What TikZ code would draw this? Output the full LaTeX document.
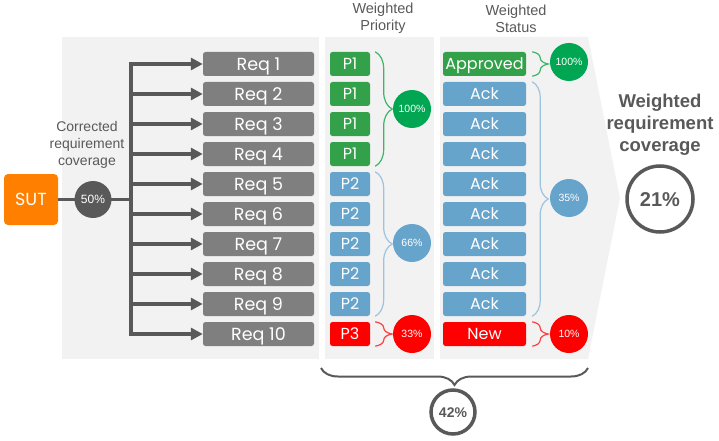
\documentclass[tikz,border=0pt]{standalone}
\usepackage{fontspec}
\setmainfont{Liberation Sans}
\newfontfamily\gothic{Poppins}
\usetikzlibrary{arrows.meta,decorations.pathreplacing,calc}
\definecolor{txtgray}{HTML}{595959}
\definecolor{reqgray}{HTML}{7F7F7F}
\definecolor{panelgray}{HTML}{F2F2F2}
\definecolor{boxgreen}{HTML}{33A14A}
\definecolor{circgreen}{HTML}{00A651}
\definecolor{boxblue}{HTML}{67A4CB}
\definecolor{boxred}{HTML}{FF0000}
\definecolor{sutorange}{HTML}{FF8000}
\definecolor{bracegreen}{HTML}{3DB56A}
\definecolor{braceblue}{HTML}{9DC3DF}
\definecolor{bracered}{HTML}{FF4040}
\tikzset{
  gbox/.style={rectangle, rounded corners=2.5pt, text=white, inner sep=0pt,
    minimum height=24pt, font=\gothic\fontsize{16}{16}\selectfont,
    text height=11.2pt, text depth=0pt},
  reqbox/.style={gbox, fill=reqgray, minimum width=111pt,
    font=\gothic\fontsize{17.5}{17.5}\selectfont, text height=12.2pt},
  pbox/.style={gbox, minimum width=40pt},
  sbox/.style={gbox, minimum width=83pt},
  pct/.style={circle, minimum size=38pt, inner sep=0pt, text=white,
    font=\fontsize{10.5}{10.5}\selectfont, text height=7.5pt, text depth=0pt},
  mainline/.style={draw=txtgray, line width=3.5pt},
  reqarrow/.style={mainline, -{Triangle[length=12pt,width=12pt]}},
  brc/.style={decorate, decoration={brace, amplitude=17pt}, line width=1.2pt},
  heading/.style={text=txtgray, align=center, font=\fontsize{14.5}{17}\selectfont},
  ring/.style={circle, draw=txtgray, line width=3.5pt, inner sep=0pt, text=txtgray}
}
\begin{document}
\begin{tikzpicture}[x=1pt, y=-1pt]
\useasboundingbox (0,0) rectangle (719,441);
% panels
\fill[panelgray] (62,37) rectangle (319,359);
\fill[panelgray] (325,37) rectangle (434,359);
\fill[panelgray] (440,37) -- (588,37) -- (620,198) -- (588,359) -- (440,359) -- cycle;
% headers
\node[heading] (hp) at (383,18.5) {Weighted\\Priority};
\node[heading] (hs) at (516,18.5) {Weighted\\Status};
\node[heading, font=\fontsize{14}{17}\selectfont] (hc) at (87,145) {Corrected\\requirement\\coverage};
% rows
\foreach \i in {1,...,10} {
  \pgfmathsetmacro{\yy}{64+30*(\i-1)}
  \node[reqbox] (req\i) at (258.5,\yy) {Req \i};
  \coordinate (t\i) at (131,\yy);
}
\foreach \i in {1,...,4} {\node[pbox, fill=boxgreen] (p\i) at (350,{64+30*(\i-1)}) {P1};}
\foreach \i in {5,...,9} {\node[pbox, fill=boxblue] (p\i) at (350,{64+30*(\i-1)}) {P2};}
\node[pbox, fill=boxred] (p10) at (350,334) {P3};
\node[sbox, fill=boxgreen] (s1) at (484.5,64) {Approved};
\foreach \i in {2,...,9} {\node[sbox, fill=boxblue] (s\i) at (484.5,{64+30*(\i-1)}) {Ack};}
\node[sbox, fill=boxred] (s10) at (484.5,334) {New};
% SUT and tree
\node[rectangle, rounded corners=4pt, fill=sutorange, minimum width=54pt, minimum height=51pt,
  inner sep=0pt, text=white, font=\gothic\fontsize{17.5}{17.5}\selectfont, text height=12.2pt, text depth=0pt]
  (sut) at (31,199.5) {SUT};
\coordinate (tj) at (131,199.5);
\draw[mainline] (sut.east) -- (tj);
\draw[mainline, line cap=rect] (t1) -- (t10);
\foreach \i in {1,...,10} {\draw[reqarrow] (t\i) -- (req\i.west);}
\node[circle, fill=txtgray, minimum size=37pt, inner sep=0pt, text=white,
  font=\fontsize{12}{12}\selectfont, text height=8.6pt, text depth=0pt] (c50) at (93,199.5) {50\%};
% priority braces and circles
\draw[brc, bracegreen] ($(p1.north east)+(5,0)$) -- ($(p4.south east)+(5,0)$);
\draw[brc, braceblue] ($(p5.north east)+(5,0)$) -- ($(p9.south east)+(5,0)$);
\draw[brc, bracered] ($(p10.north east)+(5,0)$) -- ($(p10.south east)+(5,0)$);
\node[pct, fill=circgreen] (cp1) at (412,109) {100\%};
\node[pct, fill=boxblue] (cp2) at (412,243) {66\%};
\node[pct, fill=boxred] (cp3) at (412,334) {33\%};
% status braces and circles
\draw[brc, bracegreen, decoration={amplitude=16pt}] ($(s1.north east)+(6,0)$) -- ($(s1.south east)+(6,0)$);
\draw[brc, braceblue, decoration={amplitude=16pt}] ($(s2.north east)+(6,0)$) -- ($(s9.south east)+(6,0)$);
\draw[brc, bracered, decoration={amplitude=16pt}] ($(s10.north east)+(6,0)$) -- ($(s10.south east)+(6,0)$);
\node[pct, fill=circgreen] (cs1) at (569,62) {100\%};
\node[pct, fill=boxblue] (cs2) at (569,198) {35\%};
\node[pct, fill=boxred] (cs3) at (569,334) {10\%};
% bottom brace
\coordinate (bl) at (321,368);
\coordinate (br) at (588,368);
\draw[decorate, decoration={brace, amplitude=17pt}, line width=2pt, txtgray] (br) -- (bl);
\node[ring, minimum size=44pt, font=\bfseries\fontsize{14}{14}\selectfont, text height=10pt, text depth=0pt] (c42) at (453,412) {42\%};
% result
\node[text=txtgray, align=center, font=\bfseries\fontsize{18.5}{22}\selectfont] (res) at (660,125) {Weighted\\requirement\\coverage};
\node[ring, minimum size=66pt, font=\bfseries\fontsize{20}{20}\selectfont, text height=14.3pt, text depth=0pt] (c21) at (660,199) {21\%};
\end{tikzpicture}
\end{document}
